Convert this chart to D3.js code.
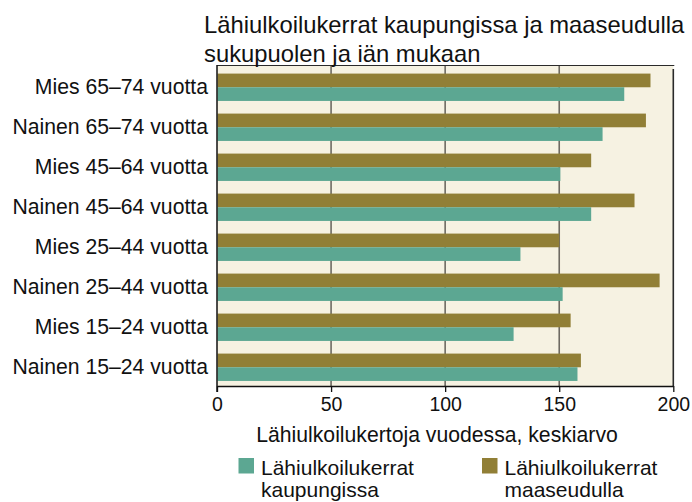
<!DOCTYPE html>
<html>
<head>
<meta charset="utf-8">
<script src="https://cdn.jsdelivr.net/npm/d3@7"></script>
<style>
  body { margin: 0; background: #fff; }
  svg { display: block; font-family: "Liberation Sans", Arial, Helvetica, sans-serif; }
</style>
</head>
<body>
<svg id="chart" width="692" height="502"></svg>
<script>
const titleLines = ["Lähiulkoilukerrat kaupungissa ja maaseudulla", "sukupuolen ja iän mukaan"];
const categories = [
  "Mies 65–74 vuotta",
  "Nainen 65–74 vuotta",
  "Mies 45–64 vuotta",
  "Nainen 45–64 vuotta",
  "Mies 25–44 vuotta",
  "Nainen 25–44 vuotta",
  "Mies 15–24 vuotta",
  "Nainen 15–24 vuotta"
];
const seriesNames = ["Lähiulkoilukerrat maaseudulla", "Lähiulkoilukerrat kaupungissa"];
const maaseudulla = [190, 188, 164, 183, 150, 194, 155, 159.5];
const kaupungissa = [178.5, 169, 150.5, 164, 133, 151.5, 130, 158];
const xTicks = [0, 50, 100, 150, 200];
const xAxisTitle = "Lähiulkoilukertoja vuodessa, keskiarvo";
const legendItems = [
  { lines: ["Lähiulkoilukerrat", "kaupungissa"], key: "kaupungissa" },
  { lines: ["Lähiulkoilukerrat", "maaseudulla"], key: "maaseudulla" }
];

const colors = { maaseudulla: "#917f36", kaupungissa: "#5ca792" };
const seriesKeys = ["maaseudulla", "kaupungissa"];
const seriesData = { maaseudulla, kaupungissa };

const svg = d3.select("#chart");
const pLeft = 217, pRight = 673.3, pTop = 66, pBottom = 386;

const x = d3.scaleLinear().domain([0, 200]).range([pLeft, pRight]);
const y = d3.scaleBand().domain(categories).range([pTop, pBottom])
  .paddingInner(0.316).paddingOuter(0.158).align(0.6);
const ySub = d3.scaleBand().domain(seriesKeys).range([0, y.bandwidth()]);

// background
svg.append("rect").attr("x", pLeft).attr("y", pTop)
  .attr("width", pRight - pLeft).attr("height", pBottom - pTop)
  .attr("fill", "#f6f2e2");

// gridlines
svg.append("g").selectAll("line").data(xTicks.filter(d => d > 0 && d < 200)).join("line")
  .attr("x1", d => x(d)).attr("x2", d => x(d))
  .attr("y1", pTop).attr("y2", pBottom)
  .attr("stroke", "#6e6a62").attr("stroke-width", 1.6);

// bars
const groups = svg.append("g").selectAll("g").data(categories).join("g")
  .attr("transform", d => `translate(0,${y(d)})`);
groups.selectAll("rect").data((c, i) => seriesKeys.map(k => ({ k, v: seriesData[k][i] }))).join("rect")
  .attr("x", x(0) + 0.5)
  .attr("y", d => ySub(d.k))
  .attr("width", d => x(d.v) - x(0) - 0.5)
  .attr("height", ySub.bandwidth())
  .attr("fill", d => colors[d.k]);

// frame: top and right
svg.append("line").attr("x1", pLeft).attr("x2", pRight + 1).attr("y1", pTop - 0.5).attr("y2", pTop - 0.5)
  .attr("stroke", "#2a2a2a").attr("stroke-width", 1.2);
svg.append("line").attr("x1", pRight).attr("x2", pRight).attr("y1", pTop + 3).attr("y2", pBottom)
  .attr("stroke", "#2a2a2a").attr("stroke-width", 1.6);

// x axis
const xAxis = d3.axisBottom(x).tickValues(xTicks).tickSize(6).tickSizeOuter(0).tickPadding(5);
const gx = svg.append("g").attr("transform", `translate(0,${pBottom})`).call(xAxis);
gx.select(".domain").attr("stroke", "#111").attr("stroke-width", 1.3);
gx.selectAll(".tick line").attr("stroke", "#111").attr("stroke-width", 1.3);
gx.selectAll(".tick text").attr("font-size", 19.5).attr("fill", "#111")
  .attr("font-family", "Liberation Sans, Arial, sans-serif");

// y axis
const yAxis = d3.axisLeft(y).tickSize(0).tickPadding(9);
const gy = svg.append("g").attr("transform", `translate(${pLeft},0)`).call(yAxis);
gy.select(".domain").remove();
gy.selectAll(".tick text").attr("font-size", 21.2).attr("fill", "#111")
  .attr("font-family", "Liberation Sans, Arial, sans-serif");
svg.append("line").attr("x1", pLeft).attr("x2", pLeft).attr("y1", pTop - 1).attr("y2", pBottom + 6)
  .attr("stroke", "#111").attr("stroke-width", 1.5);

// title
svg.append("g").selectAll("text").data(titleLines).join("text")
  .attr("x", 204).attr("y", (d, i) => 33 + i * 28.5)
  .attr("font-size", 23.8).attr("fill", "#111").text(d => d);

// x axis title
svg.append("text").attr("x", 437).attr("y", 442).attr("text-anchor", "middle")
  .attr("font-size", 21.2).attr("fill", "#111").text(xAxisTitle);

// legend
const legendX = [238.5, 482];
const lg = svg.append("g").selectAll("g").data(legendItems).join("g")
  .attr("transform", (d, i) => `translate(${legendX[i]},458)`);
lg.append("rect").attr("width", 15.5).attr("height", 15.5).attr("fill", d => colors[d.key]);
lg.each(function(d) {
  const t = d3.select(this).append("text").attr("font-size", 21).attr("fill", "#111");
  t.selectAll("tspan").data(d.lines).join("tspan")
    .attr("x", 22.5).attr("y", (l, i) => 17 + i * 21.5).text(l => l);
});
</script>
</body>
</html>
